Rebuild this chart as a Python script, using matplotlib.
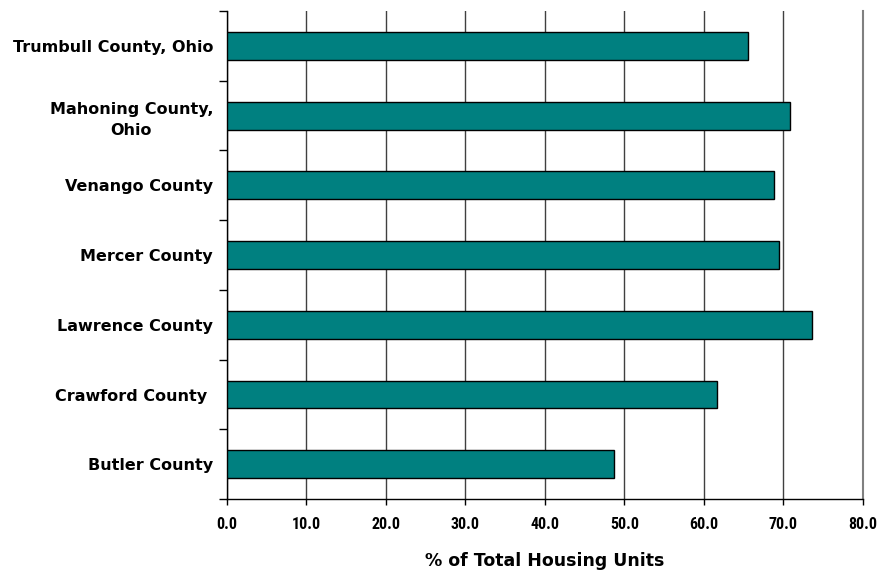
import numpy as np
import matplotlib.pyplot as plt
from matplotlib.ticker import FixedLocator, FormatStrFormatter

# counties, bottom to top
counties = ["Butler County", "Crawford County ", "Lawrence County", "Mercer County",
            "Venango County", "Mahoning County,\nOhio", "Trumbull County, Ohio"]
pct_units = [48.7, 61.7, 73.6, 69.5, 68.8, 70.8, 65.5]
xticks = [0, 10, 20, 30, 40, 50, 60, 70, 80]

plt.rcParams['font.family'] = ['DejaVu Sans']

fig = plt.figure(figsize=(8.77, 5.79), dpi=100)
ax = fig.add_axes([0.2588, 0.138, 0.7252, 0.843])

y = np.arange(len(counties))
ax.barh(y, pct_units, height=0.4, color='#008080', edgecolor='black', linewidth=1, zorder=3)

ax.set_xlim(0, 80)
ax.set_ylim(-0.5, len(counties) - 0.5)

ax.set_xticks(xticks)
ax.xaxis.set_major_formatter(FormatStrFormatter('%.1f'))
ax.grid(axis='x', color='#404040', linewidth=1, zorder=0)
ax.tick_params(axis='x', direction='out', length=4, width=1, pad=9)
for lbl in ax.get_xticklabels():
    lbl.set_fontweight('bold')
    lbl.set_fontsize(11.5)
    lbl.set_family(['Liberation Sans Narrow', 'Roboto Condensed', 'Roboto'])

# category labels with tick marks between them
ax.set_yticks(y)
ax.set_yticklabels(counties, fontsize=11.5, fontweight='bold',
                   multialignment='center', linespacing=1.5)
ax.tick_params(axis='y', which='major', length=0, pad=10)
ax.yaxis.set_minor_locator(FixedLocator(np.arange(-0.5, len(counties), 1.0)))
ax.tick_params(axis='y', which='minor', direction='out', length=6, width=1)

ax.spines['top'].set_visible(False)
ax.spines['right'].set_color('#808080')
ax.spines['right'].set_linewidth(1.5)
ax.spines['left'].set_linewidth(1)
ax.spines['bottom'].set_linewidth(1)

ax.set_xlabel('% of Total Housing Units', fontsize=12.5, fontweight='bold', labelpad=14)

fig.savefig('out.png', dpi=100)
